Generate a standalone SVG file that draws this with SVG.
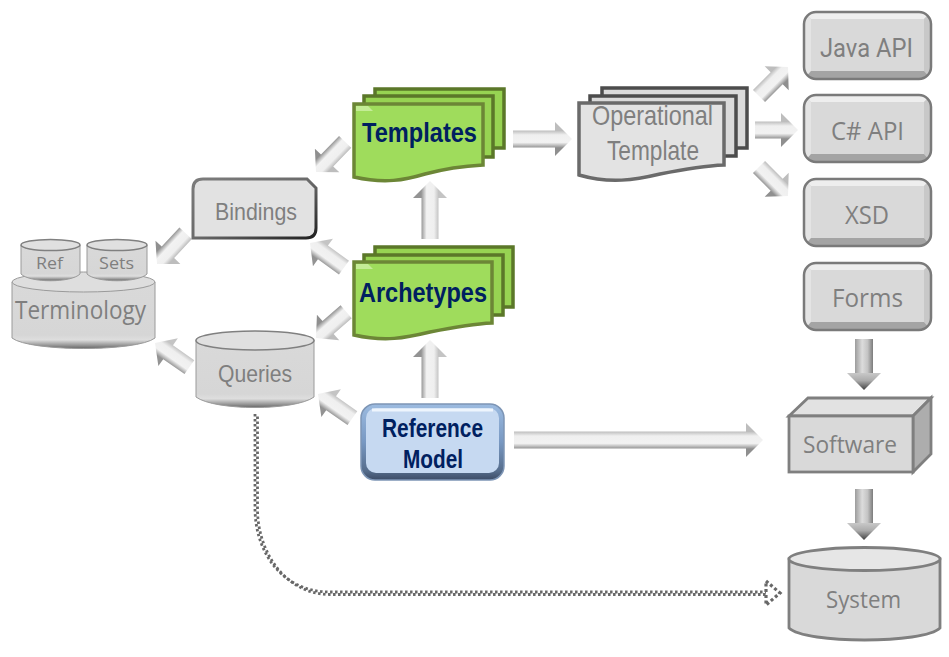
<svg xmlns="http://www.w3.org/2000/svg" width="949" height="657" viewBox="0 0 949 657">
<defs>
<linearGradient id="la" x1="0" y1="0" x2="0" y2="1"><stop offset="0.25" stop-color="#bdbdbd"/><stop offset="0.38" stop-color="#efefef"/><stop offset="0.6" stop-color="#f2f2f2"/><stop offset="0.76" stop-color="#8f8f8f"/></linearGradient>
<linearGradient id="lb" x1="0" y1="1" x2="0" y2="0"><stop offset="0.25" stop-color="#c4c4c4"/><stop offset="0.38" stop-color="#efefef"/><stop offset="0.6" stop-color="#f2f2f2"/><stop offset="0.76" stop-color="#939393"/></linearGradient>
<linearGradient id="ds" x1="0" y1="0" x2="1" y2="0"><stop offset="0" stop-color="#9c9c9c"/><stop offset="0.4" stop-color="#dcdcdc"/><stop offset="0.7" stop-color="#c4c4c4"/><stop offset="1" stop-color="#7c7c7c"/></linearGradient>
<linearGradient id="dh" x1="0" y1="0" x2="0" y2="1"><stop offset="0" stop-color="#c8c8c8"/><stop offset="0.45" stop-color="#ababab"/><stop offset="1" stop-color="#404040"/></linearGradient>
<linearGradient id="cyl" x1="0" y1="0" x2="0" y2="1"><stop offset="0" stop-color="#d9d9d9"/><stop offset="0.8" stop-color="#d6d6d6"/><stop offset="0.87" stop-color="#dedede"/><stop offset="0.95" stop-color="#989898"/><stop offset="1" stop-color="#666666"/></linearGradient>
<linearGradient id="edge" x1="0" y1="0" x2="1" y2="1"><stop offset="0" stop-color="#7c7c7c"/><stop offset="0.5" stop-color="#6a6a6a"/><stop offset="1" stop-color="#202020"/></linearGradient>
<linearGradient id="blue" x1="0" y1="0" x2="0" y2="1"><stop offset="0" stop-color="#9cbbe0"/><stop offset="0.5" stop-color="#7898c2"/><stop offset="0.88" stop-color="#566d8c"/><stop offset="1" stop-color="#3c4c66"/></linearGradient>
<clipPath id="bc"><rect width="127" height="67" rx="12"/></clipPath>
<g id="bv">
<g clip-path="url(#bc)">
<rect width="127" height="67" fill="#d9d9d9"/>
<path d="M0 0H127L120 7H7Z" fill="#eeeeee"/>
<path d="M0 0L7 7V59L0 67Z" fill="#e4e4e4"/>
<path d="M127 0L120 7V59L127 67Z" fill="#c8c8c8"/>
<path d="M0 67L7 59H120L127 67Z" fill="#a4a4a4"/>
</g>
<rect width="127" height="67" rx="12" fill="none" stroke="#7a7a7a" stroke-width="2.500"/>
</g>
<style>
.gr{font-family:"Open Sans","DejaVu Sans",sans-serif;fill:#7f7f7f;text-anchor:start}
.ar{font-family:"Liberation Sans",Arial,sans-serif;fill:#7f7f7f;text-anchor:start}
.nv{font-family:"Liberation Sans",Arial,sans-serif;font-weight:bold;fill:#002060}
.green{fill:#9fdc5c;stroke:#6c8636;stroke-width:3.500;stroke-linejoin:miter}
.greenb{fill:#97d352;stroke:#5b7729;stroke-width:3.500}
.hl{fill:#c4ec96;stroke:none}
.page{fill:#e3e3e3;stroke:#6a6a6a;stroke-width:3.500}
.pageb{fill:#dadada;stroke:#4c4c4c;stroke-width:3.500}
.cy{fill:url(#cyl);stroke:#9a9a9a;stroke-width:1}
.cyt{fill:#e0e0e0;stroke:#808080;stroke-width:1.500}
.fl{fill:#d9d9d9;stroke:#7f7f7f;stroke-width:2.800;stroke-linejoin:miter}
.lar{fill:url(#la)}
.lbr{fill:url(#lb)}
.dot{fill:none;stroke:#686868;stroke-width:2.800;stroke-dasharray:2.500 2.500}
</style>
</defs>

<g id="connectors">
<path class="lar" transform="translate(316 172) rotate(134)" d="M-42-8.500H-16V-17L0 0-16 17V8.500H-42Z"/>
<path class="lar" transform="translate(157 264) rotate(133)" d="M-42-8.500H-16V-17L0 0-16 17V8.500H-42Z"/>
<path class="lbr" transform="translate(310 243) rotate(216)" d="M-42-8.500H-16V-17L0 0-16 17V8.500H-42Z"/>
<path class="lar" transform="translate(316 338) rotate(139)" d="M-40-8.500H-16V-17L0 0-16 17V8.500H-40Z"/>
<path class="lbr" transform="translate(155 343) rotate(215)" d="M-42-8.500H-16V-17L0 0-16 17V8.500H-42Z"/>
<path class="lbr" transform="translate(318 394) rotate(215)" d="M-42-8.500H-16V-17L0 0-16 17V8.500H-42Z"/>
<path class="lar" transform="translate(572 139)" d="M-59-8.500H-17V-17L0 0-17 17V8.500H-59Z"/>
<path class="lar" transform="translate(798 130)" d="M-43-8.500H-17V-17L0 0-17 17V8.500H-43Z"/>
<path class="lar" transform="translate(788 67) rotate(-45)" d="M-41-8.500H-16V-17L0 0-16 17V8.500H-41Z"/>
<path class="lar" transform="translate(788 196) rotate(45)" d="M-41-8.500H-16V-17L0 0-16 17V8.500H-41Z"/>
<path class="lar" transform="translate(763 440)" d="M-249-8.500H-17V-17L0 0-17 17V8.500H-249Z"/>
<path class="lbr" transform="translate(430 181) rotate(-90)" d="M-58-8.500H-17V-17L0 0-17 17V8.500H-58Z"/>
<path class="lbr" transform="translate(430 340) rotate(-90)" d="M-58-8.500H-17V-17L0 0-17 17V8.500H-58Z"/>
<g id="arrow-forms-software"><rect x="855" y="339" width="18" height="35" fill="url(#ds)"/><path d="M847 373H881L864 390Z" fill="url(#dh)"/></g>
<g id="arrow-software-system"><rect x="855" y="489" width="18" height="35" fill="url(#ds)"/><path d="M847 523H881L864 540Z" fill="url(#dh)"/></g>
<g id="arrow-queries-system">
<path class="dot" d="M255 414V510C256 555 284 592 330 592H766"/>
<path class="dot" stroke-dashoffset="2.500" d="M257.500 414V510C258 553 286 594.500 330 594.500H766"/>
<path class="dot" style="stroke-width:3.200;stroke-dasharray:3 2.500" d="M766 592V581L780 593 766 605V595"/>
</g>
</g>

<g id="terminology">
<path class="cy" d="M12 282V338C30 352 137 352 155 338V282Z"/>
<ellipse cx="83.500" cy="282" rx="71.500" ry="10" fill="#dedede" stroke="#9a9a9a" stroke-width="1"/>
<text class="gr" x="15" y="319" font-size="25" textLength="131" lengthAdjust="spacingAndGlyphs">Terminology</text>
</g>
<g id="ref">
<path class="cy" d="M21 245V274C30 283 71 283 80 274V245Z"/>
<ellipse class="cyt" cx="50.500" cy="245" rx="29.500" ry="5.500"/>
<text class="gr" x="36" y="269" font-size="16" textLength="27" lengthAdjust="spacingAndGlyphs">Ref</text>
</g>
<g id="sets">
<path class="cy" d="M87 245V274C96 283 138 283 147 274V245Z"/>
<ellipse class="cyt" cx="117" cy="245" rx="30" ry="5.500"/>
<text class="gr" x="99" y="269" font-size="16" textLength="35" lengthAdjust="spacingAndGlyphs">Sets</text>
</g>
<g id="bindings">
<path d="M203 179H307L316 188V228Q316 238 306 238H193V189Q193 179 203 179Z" fill="#e2e2e2" stroke="url(#edge)" stroke-width="3"/>
<text class="ar" x="215" y="220" font-size="24" textLength="82" lengthAdjust="spacingAndGlyphs">Bindings</text>
</g>
<g id="queries">
<path class="cy" d="M196 340V397C215 411 295 411 314 397V340Z"/>
<ellipse class="cyt" cx="255" cy="340.500" rx="59" ry="9.500"/>
<text class="ar" x="218" y="382" font-size="24" textLength="74" lengthAdjust="spacingAndGlyphs">Queries</text>
</g>

<g id="templates">
<path class="greenb" d="M375 89H504V148H375Z"/>
<path class="greenb" d="M364 96H493V157H364Z"/>
<path class="green" d="M354 104H483V165C465 166 440 170 425 174C405 180 385 184 354 177Z"/>
<path class="hl" d="M356 106H368L373 111H356Z"/>
<text class="nv" x="362" y="142" font-size="27" textLength="115" lengthAdjust="spacingAndGlyphs">Templates</text>
</g>
<g id="archetypes">
<path class="greenb" d="M375 247H513V307H375Z"/>
<path class="greenb" d="M364 255H503V315H364Z"/>
<path class="green" d="M354 262H492V323C470 324 450 328 430 332C405 338 385 342 354 335Z"/>
<path class="hl" d="M356 264H368L373 269H356Z"/>
<text class="nv" x="359" y="302" font-size="27" textLength="128" lengthAdjust="spacingAndGlyphs">Archetypes</text>
</g>
<g id="operational-template">
<path class="pageb" d="M602 88H747V148H602Z"/>
<path class="pageb" d="M590 96H736V156H590Z"/>
<path class="page" d="M579 103H724V165C700 166 680 170 660 174C635 180 610 184 579 175Z"/>
<text class="ar" x="592" y="125" font-size="28" textLength="121" lengthAdjust="spacingAndGlyphs">Operational</text>
<text class="ar" x="607" y="160" font-size="28" textLength="92" lengthAdjust="spacingAndGlyphs">Template</text>
</g>
<g id="reference-model">
<rect x="361" y="404" width="143" height="76" rx="14" fill="url(#blue)" stroke="#7d95b5" stroke-width="1.500"/>
<rect x="366" y="408" width="133" height="65" rx="10" fill="#c6d9f1"/>
<path d="M372 410H493" stroke="#eef5fd" stroke-width="3"/>
<text class="nv" x="382" y="437" font-size="25" textLength="101" lengthAdjust="spacingAndGlyphs">Reference</text>
<text class="nv" x="403" y="468" font-size="25" textLength="60" lengthAdjust="spacingAndGlyphs">Model</text>
</g>
<g id="java-api">
<use href="#bv" x="804" y="12"/>
<text x="820" y="57" font-size="25" textLength="93" lengthAdjust="spacingAndGlyphs" style="font-family:Roboto,'Open Sans',sans-serif;fill:#7f7f7f">Java API</text>
</g>
<g id="csharp-api">
<use href="#bv" x="804" y="95"/>
<text class="gr" x="831" y="140" font-size="25" textLength="73" lengthAdjust="spacingAndGlyphs">C# API</text>
</g>
<g id="xsd">
<use href="#bv" x="804" y="179"/>
<text class="gr" x="845" y="224" font-size="25" textLength="44" lengthAdjust="spacingAndGlyphs">XSD</text>
</g>
<g id="forms">
<use href="#bv" x="804" y="263"/>
<text class="gr" x="832" y="307" font-size="25" textLength="71" lengthAdjust="spacingAndGlyphs">Forms</text>
</g>
<g id="software">
<path class="fl" style="fill:#e2e2e2" d="M789 416L808 398H931L913 416Z"/>
<path class="fl" style="fill:#adadad" d="M913 416L931 398V454L913 472Z"/>
<rect class="fl" x="789" y="416" width="124" height="56"/>
<text class="gr" x="803" y="453" font-size="24" textLength="94" lengthAdjust="spacingAndGlyphs">Software</text>
</g>
<g id="system">
<path class="fl" d="M789 559V628C805 644 924 644 940 628V559Z"/>
<ellipse class="fl" style="fill:#e6e6e6" cx="864.500" cy="559" rx="75.500" ry="11.500"/>
<text class="gr" x="826" y="608" font-size="24" textLength="75" lengthAdjust="spacingAndGlyphs">System</text>
</g>
</svg>
